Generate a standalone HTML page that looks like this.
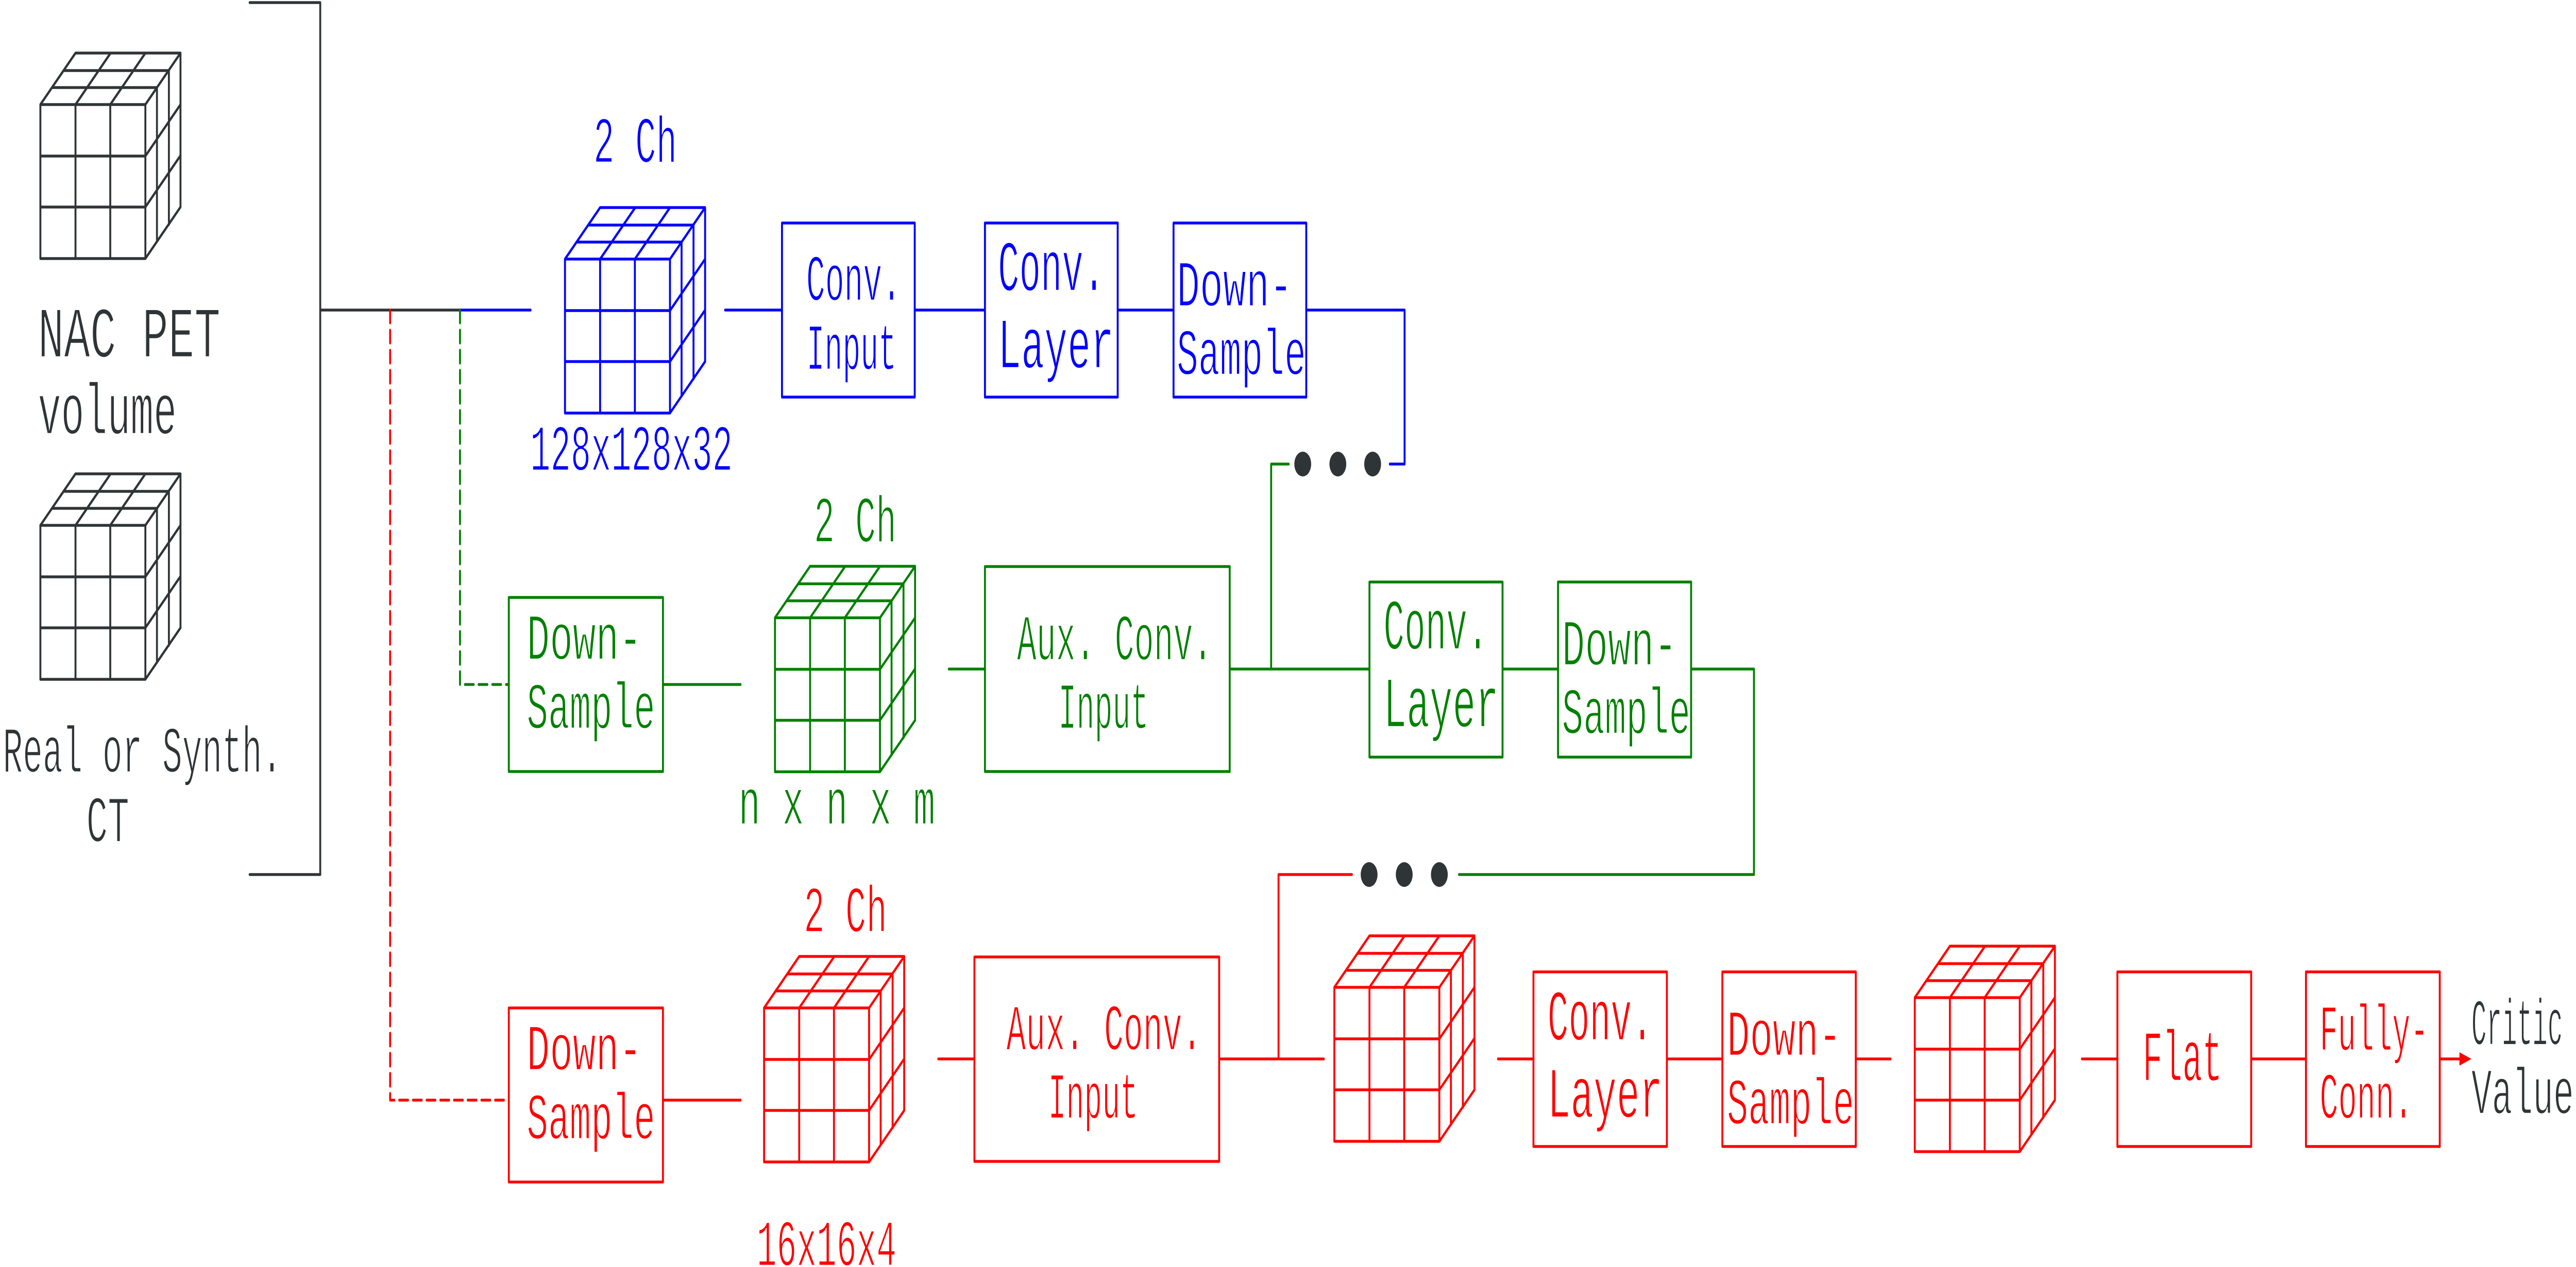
<!DOCTYPE html>
<html><head><meta charset="utf-8"><style>
html,body{margin:0;padding:0;background:#fff;overflow:hidden;width:100%;height:100%}
svg{display:block;width:100vw;height:100vh}
text{font-family:"Liberation Mono",monospace;stroke:#fff;stroke-width:2.5;font-size:127px}
.l{font-size:140px}
.k{fill:#2f3437}.b{fill:#00f}.g{fill:#008000}.r{fill:#f00}
.s path,.s rect,.s use{fill:none;stroke-width:5.5;stroke-linecap:round;stroke-linejoin:round}
</style></head><body>
<svg xmlns="http://www.w3.org/2000/svg" viewBox="0 0 7336 2460" preserveAspectRatio="none">
<rect width="7336" height="2460" fill="#fff"/>
<defs><path id="c" d="M0 0H299V299H0ZM100 0V299M199 0V299M0 100H299M0 199H299M0 0L100 -100H399L299 0M399 -100V199L299 299M100 0L200 -100M199 0L299 -100M33 -33H332M66 -66H366M332 -33V266M366 -66V233M299 100L399 0M299 199L399 99"/></defs>
<g class="s">
<g stroke="#2f3437">
<use href="#c" transform="translate(115,203)"/>
<use href="#c" transform="translate(115,1020)"/>
<path d="M711 5H912V1698H711M912 602H1310"/>
</g>
<g stroke="#00f">
<use href="#c" transform="translate(1609,503)"/>
<path d="M1310 602H1511M2065 602H2227M2605 602H2805M3183 602H3342M3720 602H4000V901H3958"/>
<rect x="2227" y="433" width="378" height="338"/>
<rect x="2805" y="433" width="378" height="338"/>
<rect x="3342" y="433" width="378" height="338"/>
</g>
<g stroke="#008000">
<use href="#c" transform="translate(2207,1199.5)"/>
<path d="M1310 602V1329H1449" stroke-dasharray="25 14"/>
<path d="M1888 1329H2109M2702 1299H2805M3502 1299H3900M3620 1299V901H3670M4279 1299H4437M4816 1299H4995V1698H4155"/>
<rect x="1449" y="1160" width="439" height="338"/>
<rect x="2805" y="1100" width="697" height="398"/>
<rect x="3900" y="1130" width="379" height="340"/>
<rect x="4437" y="1130" width="379" height="340"/>
</g>
<g stroke="#f00">
<use href="#c" transform="translate(2176,1957)"/>
<use href="#c" transform="translate(3800,1917)"/>
<use href="#c" transform="translate(5453,1937)"/>
<path d="M1111 602V2136H1449" stroke-dasharray="25 14"/>
<path d="M1888 2136H2109M2672 2056H2775M3472 2056H3770M3641 2056V1698H3850M4266 2056H4367M4747 2056H4905M5285 2056H5384M5929 2056H6030M6411 2056H6567M6948 2056H7006"/>
<rect x="1449" y="1957" width="439" height="338"/>
<rect x="2775" y="1858" width="697" height="397"/>
<rect x="4367" y="1887" width="380" height="339"/>
<rect x="4905" y="1887" width="380" height="339"/>
<rect x="6030" y="1887" width="381" height="339"/>
<rect x="6567" y="1887" width="381" height="339"/>
</g>
</g>
<path d="M7004 2043L7038 2056L7004 2069Z" fill="#f00"/>
<g fill="#2f3437"><circle cx="3710" cy="901" r="24"/><circle cx="3810" cy="901" r="24"/><circle cx="3909" cy="901" r="24"/><circle cx="3899" cy="1698" r="24"/><circle cx="3999" cy="1698" r="24"/><circle cx="4099" cy="1698" r="24"/></g>

<text class="k l" transform="translate(108,693) scale(.884,1)">NAC PET</text>
<text class="k l" transform="translate(108,842) scale(.784,1)">volume</text>
<text class="k" transform="translate(8,1499) scale(.745,1)">Real or Synth.</text>
<text class="k" transform="translate(246,1634) scale(.8,1)">CT</text>
<text class="k" transform="translate(7038,2028) scale(.57,1)">Critic</text>
<text class="k" transform="translate(7038,2162) scale(.766,1)">Value</text>

<text class="b" transform="translate(1690,315) scale(.781,1)">2 Ch</text>
<text class="b" transform="translate(1510,913) scale(.756,1)">128x128x32</text>
<text class="b" transform="translate(2296,583) scale(.709,1)">Conv.</text>
<text class="b" transform="translate(2297,717) scale(.672,1)">Input</text>
<text class="b l" transform="translate(2842,564) scale(.724,1)">Conv.</text>
<text class="b l" transform="translate(2842,714) scale(.786,1)">Layer</text>
<text class="b" transform="translate(3351,594) scale(.866,1)">Down-</text>
<text class="b" transform="translate(3351,727) scale(.805,1)">Sample</text>

<text class="g" transform="translate(2318,1052) scale(.771,1)">2 Ch</text>
<text class="g" transform="translate(2103,1600) scale(.817,1)">n x n x m</text>
<text class="g" transform="translate(1500,1280) scale(.861,1)">Down-</text>
<text class="g" transform="translate(1500,1414) scale(.8,1)">Sample</text>
<text class="g" transform="translate(2896,1281) scale(.731,1)">Aux. Conv.</text>
<text class="g" transform="translate(3014,1414) scale(.675,1)">Input</text>
<text class="g l" transform="translate(3940,1260) scale(.71,1)">Conv.</text>
<text class="g l" transform="translate(3940,1411) scale(.781,1)">Layer</text>
<text class="g" transform="translate(4448,1291) scale(.861,1)">Down-</text>
<text class="g" transform="translate(4448,1424) scale(.8,1)">Sample</text>

<text class="r" transform="translate(2289,1809) scale(.778,1)">2 Ch</text>
<text class="r" transform="translate(2155,2457) scale(.746,1)">16x16x4</text>
<text class="r" transform="translate(1500,2077) scale(.861,1)">Down-</text>
<text class="r" transform="translate(1500,2211) scale(.8,1)">Sample</text>
<text class="r" transform="translate(2866,2038) scale(.73,1)">Aux. Conv.</text>
<text class="r" transform="translate(2985,2171) scale(.672,1)">Input</text>
<text class="r l" transform="translate(4407,2019) scale(.714,1)">Conv.</text>
<text class="r l" transform="translate(4407,2169) scale(.781,1)">Layer</text>
<text class="r" transform="translate(4918,2049) scale(.856,1)">Down-</text>
<text class="r" transform="translate(4918,2182) scale(.792,1)">Sample</text>
<text class="r l" transform="translate(6102,2098) scale(.673,1)">Flat</text>
<text class="r" transform="translate(6606,2039) scale(.678,1)">Fully-</text>
<text class="r" transform="translate(6606,2171) scale(.696,1)">Conn.</text>
</svg>
</body></html>
